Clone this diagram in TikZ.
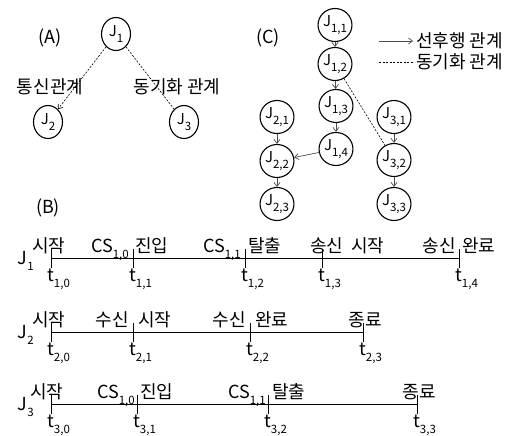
\documentclass[tikz,border=0pt]{standalone}
\usepackage{fontspec}
\setmainfont{Noto Sans CJK KR}
\usetikzlibrary{arrows.meta,shapes.geometric}
\newcommand{\lsub}[1]{\raisebox{-0.35em}{\fontsize{11.5}{11.5}\selectfont #1}}
\begin{document}
\begin{tikzpicture}[x=1pt,y=-1pt,
  jn/.style={ellipse, draw, line width=1.1pt, minimum width=29pt, minimum height=33pt, inner sep=0pt, font=\fontsize{15}{15}\selectfont},
  lbl/.style={font=\fontsize{18}{21}\selectfont, inner sep=0pt},
  prec/.style={-{Straight Barb[length=4pt,width=6pt]}, draw=black!70, line width=0.7pt},
  sync/.style={dash pattern=on 2pt off 1.5pt, line width=0.6pt},
  tl/.style={line width=0.8pt}]
\useasboundingbox (0,0) rectangle (530,436);
% ---------- (A)
\node[lbl] (la) at (50,38) {(A)};
\node[jn] (a1) at (116,34) {J\lsub{1}};
\node[jn] (a2) at (48,122) {J\lsub{2}};
\node[jn] (a3) at (184,122) {J\lsub{3}};
\draw[sync,-{Straight Barb[length=4pt,width=6pt]}] (a1) -- (a2);
\draw[sync] (a1) -- (a3);
\node[lbl] (lcomm) at (50,87) {통신관계};
\node[lbl] (lsync) at (177,87) {동기화 관계};
% ---------- (C)
\node[lbl] (lc) at (268,38) {(C)};
\node[jn] (c11) at (335,25) {J\lsub{1,1}};
\node[jn] (c12) at (335,64) {J\lsub{1,2}};
\node[jn] (c13) at (336,106) {J\lsub{1,3}};
\node[jn] (c14) at (336,149) {J\lsub{1,4}};
\node[jn] (c21) at (277,117) {J\lsub{2,1}};
\node[jn] (c22) at (277,161) {J\lsub{2,2}};
\node[jn] (c23) at (277,204) {J\lsub{2,3}};
\node[jn] (c31) at (394,117) {J\lsub{3,1}};
\node[jn] (c32) at (394,160) {J\lsub{3,2}};
\node[jn] (c33) at (394,204) {J\lsub{3,3}};
\draw[prec] (c11) -- (c12);
\draw[prec] (c12) -- (c13);
\draw[prec] (c13) -- (c14);
\draw[prec] (c21) -- (c22);
\draw[prec] (c22) -- (c23);
\draw[prec] (c31) -- (c32);
\draw[prec] (c32) -- (c33);
\draw[prec] (c14) -- (c22);
\draw[sync] (c12) -- (c32);
\coordinate (p1) at (379,41);
\coordinate (p2) at (413,41);
\coordinate (s1) at (379,62);
\coordinate (s2) at (413,62);
\draw[prec] (p1) -- (p2);
\draw[sync] (s1) -- (s2);
\node[lbl,anchor=west] (lp) at (416,41) {선후행 관계};
\node[lbl,anchor=west] (ls) at (416,62) {동기화 관계};
% ---------- (B)
\node[lbl] (lb) at (48,208) {(B)};
% J1
\coordinate (t10) at (51,258);
\coordinate (t11) at (133,258);
\coordinate (t12) at (245,258);
\coordinate (t13) at (322,258);
\coordinate (t14) at (459,258);
\draw[tl] (t10) -- (t14);
\foreach \t in {t10,t11,t12,t13,t14} \draw[tl] (\t) ++(0,-9) -- ++(0,19);
\node[lbl,anchor=base east] (j1) at (34,264) {J\lsub{1}};
\node[lbl,anchor=base west] at (32,252) {시작};
\node[lbl,anchor=base east] at (129,252) {CS\lsub{1,0}};
\node[lbl,anchor=base west] at (135,252) {진입};
\node[lbl,anchor=base east] at (241,252) {CS\lsub{1,1}};
\node[lbl,anchor=base west] at (248,252) {탈출};
\node[lbl,anchor=base west] at (310,252) {송신\hspace{4pt} 시작};
\node[lbl,anchor=base east] at (456,252) {송신};
\node[lbl,anchor=base west] at (462,252) {완료};
\node[lbl,anchor=base west] at (47,281) {t\lsub{1,0}};
\node[lbl,anchor=base west] at (129,281) {t\lsub{1,1}};
\node[lbl,anchor=base west] at (241,281) {t\lsub{1,2}};
\node[lbl,anchor=base west] at (318,281) {t\lsub{1,3}};
\node[lbl,anchor=base west] at (455,281) {t\lsub{1,4}};
% J2
\coordinate (t20) at (51,332);
\coordinate (t21) at (133,332);
\coordinate (t22) at (250,332);
\coordinate (t23) at (363,332);
\draw[tl] (t20) -- (t23);
\foreach \t in {t20,t21,t22,t23} \draw[tl] (\t) ++(0,-9) -- ++(0,19);
\node[lbl,anchor=base east] (j2) at (34,338) {J\lsub{2}};
\node[lbl,anchor=base west] at (32,326) {시작};
\node[lbl,anchor=base east] at (129,326) {수신};
\node[lbl,anchor=base west] at (138,326) {시작};
\node[lbl,anchor=base east] at (246,326) {수신};
\node[lbl,anchor=base west] at (255,326) {완료};
\node[lbl,anchor=base] at (365,326) {종료};
\node[lbl,anchor=base west] at (47,355) {t\lsub{2,0}};
\node[lbl,anchor=base west] at (129,355) {t\lsub{2,1}};
\node[lbl,anchor=base west] at (246,355) {t\lsub{2,2}};
\node[lbl,anchor=base west] at (359,355) {t\lsub{2,3}};
% J3
\coordinate (t30) at (51,404);
\coordinate (t31) at (137,404);
\coordinate (t32) at (268,404);
\coordinate (t33) at (417,404);
\draw[tl] (t30) -- (t33);
\foreach \t in {t30,t31,t32,t33} \draw[tl] (\t) ++(0,-9) -- ++(0,19);
\node[lbl,anchor=base east] (j3) at (34,410) {J\lsub{3}};
\node[lbl,anchor=base west] at (30,398) {시작};
\node[lbl,anchor=base east] at (135,398) {CS\lsub{1,0}};
\node[lbl,anchor=base west] at (140,398) {진입};
\node[lbl,anchor=base east] at (266,398) {CS\lsub{1,1}};
\node[lbl,anchor=base west] at (272,398) {탈출};
\node[lbl,anchor=base] at (419,398) {종료};
\node[lbl,anchor=base west] at (47,427) {t\lsub{3,0}};
\node[lbl,anchor=base west] at (133,427) {t\lsub{3,1}};
\node[lbl,anchor=base west] at (264,427) {t\lsub{3,2}};
\node[lbl,anchor=base west] at (413,427) {t\lsub{3,3}};
\end{tikzpicture}
\end{document}
